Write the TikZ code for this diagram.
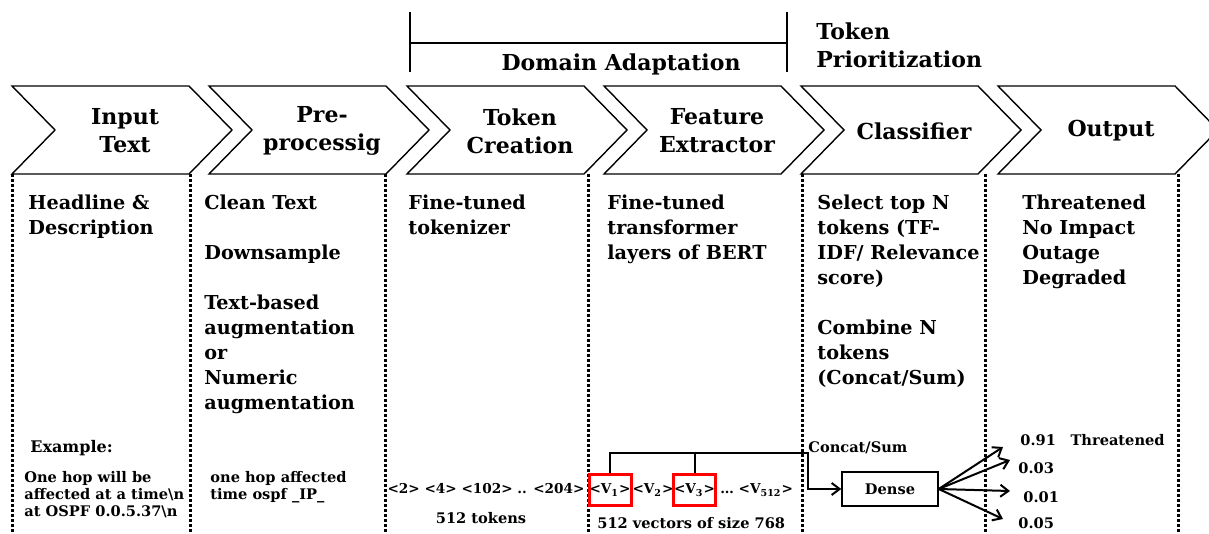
\documentclass[tikz,border=0pt]{standalone}
\usepackage{fontspec}
\setmainfont{DejaVu Serif}
\usetikzlibrary{arrows.meta,positioning}

\begin{document}
\begin{tikzpicture}[x=0.5pt,y=-0.5pt,
  chev/.style={line width=0.7pt},
  head/.style={font=\fontsize{11}{14}\selectfont\bfseries,align=center,inner sep=0},
  body/.style={font=\fontsize{9.6}{12.5}\selectfont\bfseries,align=left,anchor=north west,inner sep=0},
  small/.style={font=\fontsize{7.3}{8.5}\selectfont\bfseries,align=left,inner sep=0},
  tiny/.style={small,font=\fontsize{6.8}{8}\selectfont\bfseries},
  sep/.style={line width=1.5pt,dash pattern=on 1.5pt off 1pt},
  pick/.style={tiny,draw=red,line width=1.5pt,minimum width=21pt,minimum height=15.5pt},
  link/.style={line width=1pt},
  arr/.style={link,-{Straight Barb[length=4pt,width=6pt]}}]

\useasboundingbox (0,0) rectangle (1209,534);

% stages
\begin{scope}
\clip (0,0) rectangle (1209,534);
\foreach \x/\n/\t in {12/inp/{Input\\Text},209/pre/{Pre-\\processig},407/tok/{Token\\Creation},
  604/feat/{Feature\\Extractor},801/cls/Classifier,998/out/Output}{
  \draw[chev](\x,86)--++(177,0)--++(43,44)--++(-43,44)--++(-177,0)--++(43,-44)--cycle;
  \node[head] (\n) at (\x+113,131) {\t};
}
\end{scope}
\foreach \x in {12,190,385,588,802,985,1178}
  \draw[sep](\x,174)--(\x,534);

% groups
\draw[link](410,12)--(410,72) (787,12)--(787,72) (410,43)--(787,43);
\node[head,anchor=base] (dom) at (621,71) {Domain Adaptation};
\node[head,align=left,anchor=north west] (prio) at (816,22) {Token\\Prioritization};

% what each stage does
\node[body] (c1) at (28,195) {Headline \&\\Description};
\node[body] (c2) at (204,195) {Clean Text\\[12.5pt]Downsample\\[12.5pt]Text-based\\augmentation\\or\\Numeric\\augmentation};
\node[body] (c3) at (408,195) {Fine-tuned\\tokenizer};
\node[body] (c4) at (607,195) {Fine-tuned\\transformer\\layers of BERT};
\node[body] (c5) at (817,195) {Select top N\\tokens (TF-\\IDF/ Relevance\\score)\\[12.5pt]Combine N\\tokens\\(Concat/Sum)};
\node[body] (c6) at (1022,195) {Threatened\\No Impact\\Outage\\Degraded};

% example
\node[small,font=\fontsize{8}{9}\selectfont\bfseries,anchor=base west] (ex) at (30,452) {Example:};
\node[small,anchor=north west] (exin) at (24,471) {One hop will be\\affected at a time\textbackslash n\\at OSPF 0.0.5.37\textbackslash n};
\node[small,anchor=north west] (expre) at (210,471) {one hop affected\\time ospf \_IP\_};
\node[tiny,anchor=base] (ids) at (486,493) {<2> <4> <102> .. <204>};
\node[small,anchor=base] (ntok) at (481,523) {512 tokens};
\node[pick] (v1) at (610,490) {<V\textsubscript{1}>};
\node[tiny] (v2) at (653,490) {<V\textsubscript{2}>};
\node[pick] (v3) at (694.5,490) {<V\textsubscript{3}>};
\node[tiny,anchor=west] (vn) at (720,490) {\ldots{} <V\textsubscript{512}>};
\node[small,anchor=base west] (nvec) at (597,528) {512 vectors of size 768};

\coordinate (join) at (808,453);
\node[small,draw,line width=0.7pt,minimum width=48pt,minimum height=17pt] (dense) at (890,489) {Dense};
\node[small,anchor=base west] (sum) at (808,452) {Concat/Sum};
\draw[arr](v1.north)|-(join)|-(dense.west);
\draw[link](v3.north)--(v3.north|-join);

\coordinate (p1) at (1003,447);
\coordinate (p2) at (1010,460);
\coordinate (p3) at (1010,491);
\coordinate (p4) at (1003,519);
\foreach \p in {p1,p2,p3,p4}
  \draw[arr](dense.east)--(\p);
\node[small,anchor=base west] (o1) at (1020,445) {0.91\quad Threatened};
\node[small,anchor=base west] (o2) at (1018,473) {0.03};
\node[small,anchor=base west] (o3) at (1023,502) {0.01};
\node[small,anchor=base west] (o4) at (1018,528) {0.05};
\end{tikzpicture}
\end{document}
